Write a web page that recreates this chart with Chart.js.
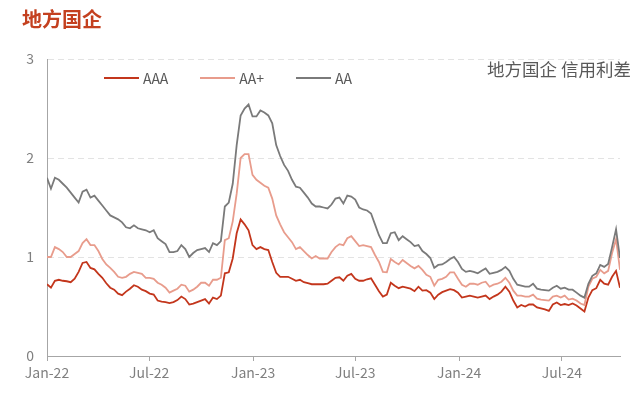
<!DOCTYPE html>
<html>
<head>
<meta charset="utf-8">
<script src="https://cdn.jsdelivr.net/npm/chart.js@4"></script>
<style>
    body { margin: 0; background: #fff; font-family: "Noto Sans CJK SC", "Noto Sans", sans-serif; }
    #wrap { position: relative; width: 640px; height: 394px; overflow: hidden; }
    #title { position: absolute; left: 22px; top: 4px; font-size: 20px; font-weight: bold; color: #c4401f; }
    #note { position: absolute; left: 487px; top: 56px; font-size: 17.5px; color: #595959; white-space: nowrap; }
    #legend { position: absolute; left: 104px; top: 68px; display: flex; gap: 32px; font-size: 14px; color: #595959; }
    #legend span.item { display: flex; align-items: center; }
    #legend span.swatch { display: inline-block; width: 35px; height: 2px; margin-right: 4px; }
</style>
</head>
<body>
<div id="wrap">
    <canvas id="myChart" width="640" height="394"></canvas>
    <div id="title">地方国企</div>
    <div id="note">地方国企 信用利差</div>
    <div id="legend"></div>
</div>
<script>
// weekly spread data (%), first week starts 2022-01-01
const startDate = '2022-01-01';
const seriesNames = ['AAA', 'AA+', 'AA'];
const seriesColors = ['#c3361c', '#e89c8c', '#7a7a7a'];

const aaa = [
    0.725, 0.69, 0.76, 0.77, 0.76, 0.755, 0.745, 0.78, 0.85, 0.94,
    0.95, 0.89, 0.875, 0.83, 0.79, 0.735, 0.69, 0.67, 0.63, 0.615,
    0.65, 0.68, 0.715, 0.70, 0.67, 0.655, 0.63, 0.62, 0.56, 0.55,
    0.545, 0.535, 0.545, 0.565, 0.60, 0.575, 0.52, 0.53, 0.545, 0.56,
    0.575, 0.53, 0.59, 0.575, 0.61, 0.835, 0.845, 0.985, 1.24, 1.38,
    1.33, 1.27, 1.12, 1.08, 1.10, 1.08, 1.07, 0.95, 0.84, 0.80,
    0.80, 0.80, 0.78, 0.76, 0.77, 0.745, 0.735, 0.725, 0.725, 0.725,
    0.725, 0.73, 0.76, 0.79, 0.795, 0.76, 0.81, 0.83, 0.78, 0.76,
    0.76, 0.775, 0.785, 0.72, 0.655, 0.60, 0.62, 0.74, 0.71, 0.685,
    0.70, 0.69, 0.68, 0.655, 0.70, 0.66, 0.665, 0.64, 0.575, 0.62,
    0.645, 0.66, 0.675, 0.665, 0.64, 0.59, 0.60, 0.61, 0.60, 0.59,
    0.60, 0.61, 0.575, 0.60, 0.62, 0.65, 0.70, 0.65, 0.56, 0.49,
    0.515, 0.50, 0.52, 0.52, 0.49, 0.48, 0.47, 0.455, 0.52, 0.54,
    0.515, 0.525, 0.515, 0.53, 0.51, 0.48, 0.45, 0.59, 0.665, 0.685,
    0.77, 0.73, 0.72, 0.80, 0.86, 0.69
];
const aaPlus = [
    1.00, 1.00, 1.10, 1.08, 1.05, 1.00, 1.00, 1.03, 1.06, 1.14,
    1.18, 1.12, 1.12, 1.06, 0.98, 0.925, 0.89, 0.85, 0.80, 0.79,
    0.80, 0.83, 0.85, 0.84, 0.83, 0.79, 0.79, 0.78, 0.74, 0.72,
    0.69, 0.64, 0.66, 0.68, 0.72, 0.71, 0.65, 0.67, 0.70, 0.74,
    0.74, 0.71, 0.77, 0.77, 0.79, 1.17, 1.19, 1.36, 1.64, 2.00,
    2.04, 2.04, 1.83, 1.78, 1.75, 1.72, 1.70, 1.59, 1.42, 1.33,
    1.25, 1.20, 1.15, 1.08, 1.10, 1.06, 1.02, 0.985, 1.01, 0.985,
    0.985, 0.985, 1.05, 1.10, 1.13, 1.12, 1.19, 1.21, 1.16, 1.11,
    1.12, 1.11, 1.10, 1.02, 0.95, 0.85, 0.845, 0.98, 0.95, 0.925,
    0.97, 0.94, 0.91, 0.885, 0.91, 0.87, 0.82, 0.80, 0.71, 0.77,
    0.78, 0.80, 0.845, 0.845, 0.78, 0.72, 0.70, 0.73, 0.73, 0.72,
    0.74, 0.75, 0.70, 0.72, 0.73, 0.75, 0.79, 0.74, 0.66, 0.61,
    0.61, 0.60, 0.60, 0.62, 0.58, 0.57, 0.565, 0.56, 0.60, 0.61,
    0.59, 0.61, 0.57, 0.58, 0.56, 0.53, 0.515, 0.70, 0.78, 0.80,
    0.87, 0.835, 0.86, 1.04, 1.18, 0.87
];
const aa = [
    1.80, 1.69, 1.80, 1.78, 1.74, 1.70, 1.65, 1.60, 1.55, 1.66,
    1.68, 1.60, 1.62, 1.57, 1.52, 1.47, 1.42, 1.40, 1.38, 1.35,
    1.30, 1.29, 1.32, 1.29, 1.28, 1.27, 1.25, 1.27, 1.19, 1.16,
    1.13, 1.05, 1.05, 1.06, 1.12, 1.08, 1.00, 1.04, 1.07, 1.08,
    1.09, 1.05, 1.14, 1.12, 1.16, 1.51, 1.55, 1.74, 2.13, 2.43,
    2.50, 2.54, 2.42, 2.42, 2.48, 2.46, 2.43, 2.35, 2.13, 2.02,
    1.93, 1.87, 1.78, 1.71, 1.70, 1.65, 1.60, 1.54, 1.51, 1.51,
    1.50, 1.49, 1.53, 1.59, 1.60, 1.54, 1.62, 1.61, 1.58, 1.50,
    1.48, 1.47, 1.44, 1.33, 1.22, 1.14, 1.14, 1.24, 1.25, 1.17,
    1.21, 1.18, 1.15, 1.11, 1.12, 1.06, 1.03, 0.99, 0.89, 0.92,
    0.925, 0.95, 0.98, 1.00, 0.95, 0.88, 0.85, 0.86, 0.85, 0.835,
    0.86, 0.885, 0.83, 0.84, 0.85, 0.87, 0.90, 0.86, 0.78, 0.72,
    0.71, 0.70, 0.70, 0.73, 0.68, 0.67, 0.665, 0.66, 0.69, 0.71,
    0.68, 0.69, 0.67, 0.67, 0.64, 0.61, 0.59, 0.73, 0.81, 0.835,
    0.92, 0.90, 0.93, 1.10, 1.28, 0.99
];
const tickDates = ['2022-01-01', '2022-07-01', '2023-01-01', '2023-07-01', '2024-01-01', '2024-07-01'];
const tickLabels = ['Jan-22', 'Jul-22', 'Jan-23', 'Jul-23', 'Jan-24', 'Jul-24'];

const dayMs = 86400000;
const dayOf = (d) => Math.round((new Date(d) - new Date(startDate)) / dayMs);
const tickDays = tickDates.map(dayOf);
const allSeries = [aaa, aaPlus, aa];
const lastDay = (aaa.length - 1) * 7;

// legend
const legend = document.getElementById('legend');
seriesNames.forEach((name, i) => {
    const item = document.createElement('span');
    item.className = 'item';
    item.innerHTML = '<span class="swatch" style="background:' + seriesColors[i] + '"></span>' + name;
    legend.appendChild(item);
});

const ctx = document.getElementById('myChart');
new Chart(ctx, {
    type: 'line',
    data: {
        datasets: allSeries.map((vals, i) => ({
            label: seriesNames[i],
            data: vals.map((v, k) => ({ x: k * 7, y: v })),
            borderColor: seriesColors[i],
            backgroundColor: seriesColors[i],
            borderWidth: 1.8,
            pointRadius: 0,
            tension: 0
        })).reverse()
    },
    options: {
        responsive: false,
        animation: false,
        layout: { padding: { top: 59, right: 20, left: 0, bottom: 0 } },
        plugins: {
            legend: { display: false },
            tooltip: { enabled: false }
        },
        scales: {
            x: {
                type: 'linear',
                min: 0,
                max: lastDay,
                afterBuildTicks: (scale) => {
                    scale.ticks = tickDays.map(v => ({ value: v }));
                },
                afterFit: (scale) => { scale.height = 38; },
                ticks: {
                    autoSkip: false,
                    maxRotation: 0,
                    padding: 3,
                    color: '#7f7f7f',
                    font: { family: '"Noto Sans CJK SC", "Noto Sans", sans-serif', size: 14 },
                    callback: (value) => tickLabels[tickDays.indexOf(value)]
                },
                grid: { drawOnChartArea: false, drawTicks: true, tickLength: 5, color: '#a6a6a6' },
                border: { color: '#a6a6a6' }
            },
            y: {
                min: 0,
                max: 3,
                afterFit: (scale) => { scale.width = 47; },
                ticks: {
                    stepSize: 1,
                    padding: 13,
                    color: '#7f7f7f',
                    font: { family: '"Noto Sans CJK SC", "Noto Sans", sans-serif', size: 14 }
                },
                grid: {
                    drawTicks: false,
                    color: (c) => c.tick && c.tick.value === 0 ? 'rgba(0,0,0,0)' : '#e3e3e3'
                },
                border: { color: '#a6a6a6', dash: [6, 4] }
            }
        }
    }
});
</script>
</body>
</html>
